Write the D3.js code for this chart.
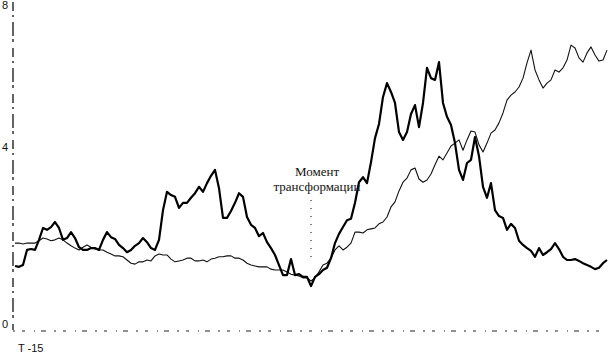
<!DOCTYPE html>
<html>
<head>
<meta charset="utf-8">
<script src="https://cdn.jsdelivr.net/npm/d3@7"></script>
<style>
  body { margin: 0; background: #fff; }
  svg { display: block; }
</style>
</head>
<body>
<svg id="chart"></svg>
<script>
const [width, height] = [610, 353];

// series sampled at equal time steps, values in axis units
const thick = [1.40, 1.38, 1.42, 1.75, 1.77, 1.75, 1.97, 2.23, 2.19, 2.25,
  2.36, 2.23, 1.97, 2.01, 2.14, 2.01, 1.81, 1.75, 1.75, 1.79,
  1.79, 1.75, 1.97, 2.14, 2.03, 1.99, 1.86, 1.79, 1.70, 1.75,
  1.84, 1.90, 2.01, 1.92, 1.79, 1.75, 1.97, 2.62, 3.02, 2.95,
  2.91, 2.67, 2.78, 2.78, 2.89, 2.99, 3.13, 3.02, 3.21, 3.37,
  3.50, 3.10, 2.45, 2.45, 2.60, 2.78, 2.99, 2.91, 2.47, 2.30,
  2.23, 2.05, 2.12, 1.92, 1.79, 1.64, 1.42, 1.20, 1.20, 1.55,
  1.20, 1.22, 1.16, 1.16, 0.96, 1.16, 1.22, 1.31, 1.36, 1.57,
  1.90, 2.10, 2.25, 2.40, 2.43, 2.78, 3.23, 3.34, 3.21, 3.67,
  4.25, 4.65, 5.41, 5.80, 5.55, 5.24, 4.42, 4.20, 4.42, 4.93,
  5.18, 4.56, 5.24, 6.23, 5.94, 5.89, 6.39, 5.24, 4.85, 4.62,
  4.11, 3.50, 3.28, 3.65, 3.72, 4.28, 3.80, 3.13, 2.89, 3.21,
  2.62, 2.49, 2.45, 2.19, 2.32, 2.23, 1.95, 1.86, 1.79, 1.73,
  1.60, 1.79, 1.64, 1.70, 1.77, 1.90, 1.77, 1.60, 1.53, 1.53,
  1.55, 1.51, 1.46, 1.42, 1.38, 1.33, 1.36, 1.46, 1.53];

const thin = [1.90, 1.90, 1.88, 1.90, 1.90, 1.90, 1.95, 2.01, 1.99, 1.95,
  1.97, 2.01, 1.97, 1.90, 1.84, 1.79, 1.75, 1.81, 1.86, 1.81,
  1.77, 1.75, 1.75, 1.70, 1.66, 1.62, 1.62, 1.60, 1.53, 1.46,
  1.44, 1.49, 1.49, 1.53, 1.51, 1.62, 1.66, 1.64, 1.64, 1.55,
  1.49, 1.51, 1.53, 1.57, 1.57, 1.51, 1.51, 1.53, 1.49, 1.55,
  1.57, 1.60, 1.60, 1.62, 1.62, 1.57, 1.57, 1.53, 1.46, 1.42,
  1.40, 1.38, 1.38, 1.38, 1.33, 1.31, 1.31, 1.31, 1.27, 1.22,
  1.20, 1.18, 1.14, 1.14, 1.07, 1.14, 1.27, 1.42, 1.46, 1.57,
  1.75, 1.84, 1.75, 1.81, 1.90, 2.14, 2.14, 2.12, 2.19, 2.21,
  2.23, 2.32, 2.36, 2.47, 2.69, 2.80, 3.04, 3.23, 3.32, 3.50,
  3.54, 3.30, 3.23, 3.28, 3.41, 3.61, 3.80, 3.72, 3.87, 4.03,
  4.11, 4.20, 3.93, 4.20, 4.45, 4.42, 4.06, 3.89, 4.11, 4.39,
  4.48, 4.68, 4.96, 5.32, 5.46, 5.55, 5.69, 5.94, 6.37, 6.73,
  6.17, 5.89, 5.66, 5.80, 5.89, 6.17, 6.11, 6.23, 6.45, 6.87,
  6.79, 6.51, 6.39, 6.65, 6.82, 6.59, 6.42, 6.45, 6.73];

const yTicks = [0, 4, 8];
const xLabel = 'T -15';
const noteLines = ['Момент', 'трансформации'];
const transformIndex = 74;

const svg = d3.select('#chart')
  .attr('width', width)
  .attr('height', height);

const x = d3.scaleLinear()
  .domain([0, thick.length - 1])
  .range([15, 607]);
// the printed axis is not evenly spaced, so map through the three labelled values
const y = d3.scaleLinear()
  .domain([0, 4, 8])
  .range([330, 147, 5]);

// y axis: labels only, the broken rule is drawn below
const yAxis = svg.append('g')
  .attr('transform', 'translate(11, 0)')
  .call(d3.axisLeft(y).tickValues(yTicks).tickSize(0).tickPadding(3));
yAxis.select('.domain').remove();
yAxis.selectAll('text')
  .attr('font-family', 'Liberation Sans, Arial, sans-serif')
  .attr('font-size', 11)
  .attr('fill', '#111')
  .attr('dy', d => d === 0 ? '-0.2em' : '0.35em');

svg.append('line')
  .attr('x1', 13).attr('x2', 13)
  .attr('y1', 2).attr('y2', y(0))
  .attr('stroke', '#111')
  .attr('stroke-width', 1.3)
  .attr('stroke-dasharray', '9,4,2,5,14,3,3,6');

svg.append('line')
  .attr('x1', 13).attr('x2', 607)
  .attr('y1', y(0) + 1).attr('y2', y(0) + 1)
  .attr('stroke', '#222')
  .attr('stroke-width', 1)
  .attr('stroke-dasharray', '2,7,3,9,1,6,5,8');

svg.append('text')
  .attr('x', 18)
  .attr('y', 352)
  .attr('font-family', 'Liberation Sans, Arial, sans-serif')
  .attr('font-size', 11)
  .attr('fill', '#111')
  .text(xLabel);

const line = d3.line()
  .x((d, i) => x(i))
  .y(d => y(d));

svg.append('path')
  .datum(thin)
  .attr('fill', 'none')
  .attr('stroke', '#111')
  .attr('stroke-width', 1.1)
  .attr('stroke-linejoin', 'round')
  .attr('d', line);

svg.append('path')
  .datum(thick)
  .attr('fill', 'none')
  .attr('stroke', '#000')
  .attr('stroke-width', 2.2)
  .attr('stroke-linejoin', 'round')
  .attr('d', line);

// transformation marker
const tx = x(transformIndex);
svg.append('line')
  .attr('x1', tx).attr('x2', tx)
  .attr('y1', 200).attr('y2', 262)
  .attr('stroke', '#111')
  .attr('stroke-width', 1)
  .attr('stroke-dasharray', '1,7');

svg.append('text')
  .attr('x', tx + 6)
  .attr('y', 176)
  .attr('text-anchor', 'middle')
  .attr('font-family', 'Liberation Serif, Times New Roman, serif')
  .attr('font-size', 13)
  .attr('fill', '#111')
  .selectAll('tspan')
  .data(noteLines)
  .join('tspan')
  .attr('x', tx + 6)
  .attr('dy', (d, i) => i === 0 ? 0 : 15)
  .text(d => d);
</script>
</body>
</html>
